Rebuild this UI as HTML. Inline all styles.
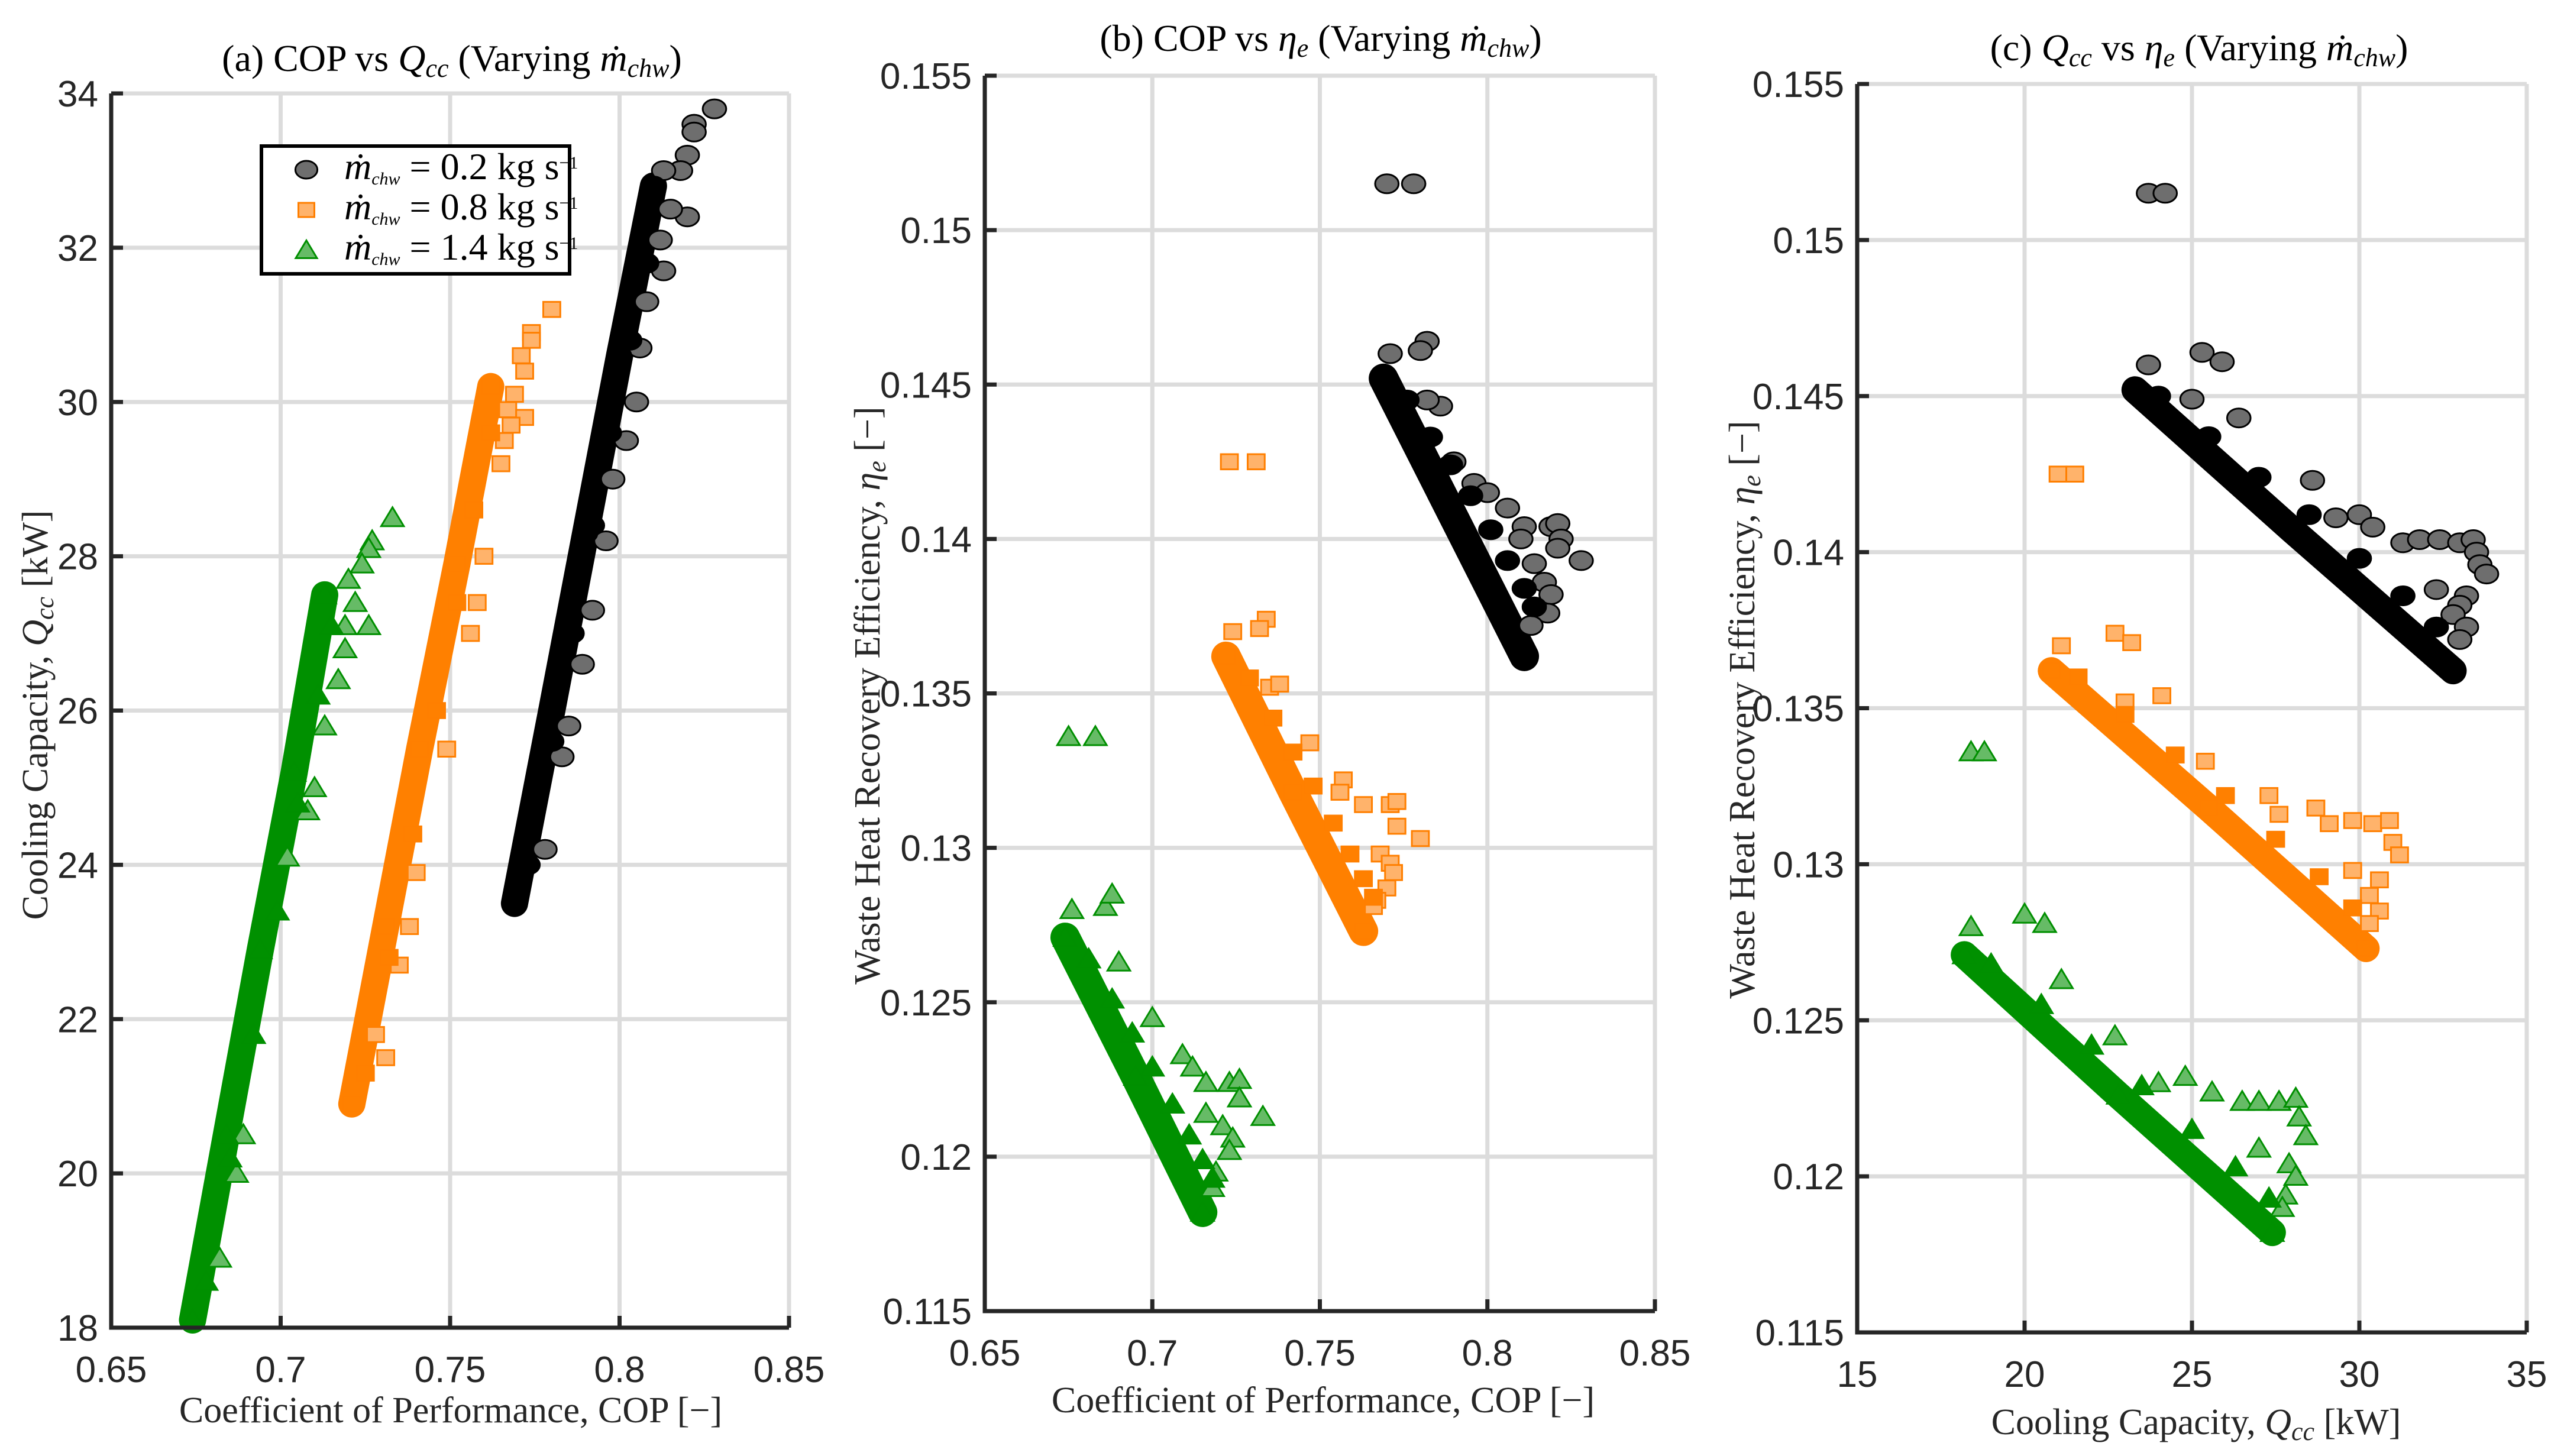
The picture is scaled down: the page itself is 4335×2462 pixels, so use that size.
<!DOCTYPE html>
<html><head><meta charset="utf-8">
<style>
html,body{margin:0;padding:0;background:#fff;}
svg{display:block;}
.tk{font-family:"Liberation Sans",Arial,sans-serif;font-size:62px;fill:#262626;}
.lb{font-family:"Liberation Serif","DejaVu Serif",serif;font-size:62px;fill:#262626;}
.tt{font-family:"Liberation Serif","DejaVu Serif",serif;font-size:64px;fill:#000;}
</style></head>
<body>
<svg id="fig" width="4335" height="2462" viewBox="0 0 4335 2462" xmlns="http://www.w3.org/2000/svg">
<rect width="4335" height="2462" fill="#fff"/>
</svg>
<script>
// ---------- DATA ----------
// Panel (a): COP vs Qcc
const aBlackBand = [[0.769,23.5],[0.780,26.0],[0.790,28.3],[0.800,30.6],[0.810,32.8]];
const aOrangeBand = [[0.721,20.9],[0.731,23.2],[0.741,25.5],[0.752,27.9],[0.762,30.2]];
const aGreenBand = [[0.674,18.1],[0.684,20.5],[0.694,22.9],[0.704,25.2],[0.713,27.5]];
const aBlackNear = [[0.773,24.0],[0.780,25.6],[0.786,27.0],[0.792,28.4],[0.797,29.6],[0.803,30.8],[0.808,31.8]];
const aOrangeNear = [[0.725,21.3],[0.732,22.8],[0.739,24.4],[0.746,26.0],[0.752,27.4],[0.757,28.6],[0.762,29.6]];
const aGreenNear = [[0.678,18.6],[0.685,20.2],[0.692,21.8],[0.699,23.4],[0.705,24.8],[0.711,26.2],[0.715,27.1]];
const aBlackOut = [[0.828,33.8],[0.822,33.6],[0.822,33.5],[0.820,33.2],[0.818,33.0],[0.813,33.0],[0.820,32.4],[0.815,32.5],[0.812,32.1],[0.813,31.7],[0.808,31.3],[0.806,30.7],[0.805,30.0],[0.802,29.5],[0.798,29.0],[0.796,28.2],[0.792,27.3],[0.789,26.6],[0.785,25.8],[0.783,25.4],[0.778,24.2]];
const aOrangeOut = [[0.780,31.2],[0.774,30.9],[0.774,30.8],[0.771,30.6],[0.772,30.4],[0.769,30.1],[0.767,29.9],[0.772,29.8],[0.768,29.7],[0.766,29.5],[0.765,29.2],[0.760,28.0],[0.758,27.4],[0.756,27.0],[0.749,25.5],[0.740,23.9],[0.738,23.2],[0.735,22.7],[0.731,21.5],[0.728,21.8]];
const aGreenOut = [[0.733,28.5],[0.727,28.2],[0.726,28.1],[0.724,27.9],[0.720,27.7],[0.722,27.4],[0.726,27.1],[0.719,27.1],[0.719,26.8],[0.717,26.4],[0.713,25.8],[0.710,25.0],[0.708,24.7],[0.702,24.1],[0.689,20.5],[0.687,20.0],[0.682,18.9]];
const aXTicks = [0.65,0.7,0.75,0.8,0.85];
const aXTickLabels = ["0.65","0.7","0.75","0.8","0.85"];
const aYTicks = [18,20,22,24,26,28,30,32,34];
const aYTickLabels = ["18","20","22","24","26","28","30","32","34"];

// Panel (b): COP vs eta
const bBlackBand = [[0.769,0.1452],[0.790,0.1407],[0.811,0.1362]];
const bOrangeBand = [[0.722,0.1362],[0.742,0.1318],[0.763,0.1273]];
const bGreenBand = [[0.674,0.1271],[0.695,0.1226],[0.715,0.1182]];
const bBlackNear = [[0.776,0.1445],[0.783,0.1433],[0.789,0.1424],[0.795,0.1414],[0.801,0.1403],[0.806,0.1393],[0.811,0.1384],[0.814,0.1378]];
const bOrangeNear = [[0.729,0.1355],[0.736,0.1342],[0.742,0.1331],[0.748,0.1320],[0.754,0.1308],[0.759,0.1298],[0.763,0.1290],[0.766,0.1284]];
const bGreenNear = [[0.681,0.1264],[0.688,0.1251],[0.694,0.1240],[0.700,0.1229],[0.706,0.1217],[0.711,0.1207],[0.715,0.1199],[0.718,0.1193]];
const bBlackOut = [[0.770,0.1515],[0.778,0.1515],[0.782,0.1464],[0.780,0.1461],[0.771,0.1460],[0.786,0.1443],[0.782,0.1445],[0.790,0.1425],[0.796,0.1418],[0.800,0.1415],[0.806,0.1410],[0.811,0.1404],[0.810,0.1400],[0.819,0.1404],[0.821,0.1405],[0.822,0.1400],[0.821,0.1397],[0.828,0.1393],[0.814,0.1392],[0.817,0.1386],[0.819,0.1382],[0.818,0.1376],[0.813,0.1372]];
const bOrangeOut = [[0.723,0.1425],[0.731,0.1425],[0.724,0.1370],[0.734,0.1374],[0.732,0.1371],[0.735,0.1352],[0.738,0.1353],[0.747,0.1334],[0.757,0.1322],[0.756,0.1318],[0.763,0.1314],[0.771,0.1314],[0.773,0.1315],[0.773,0.1307],[0.780,0.1303],[0.768,0.1298],[0.771,0.1295],[0.772,0.1292],[0.770,0.1287],[0.767,0.1283],[0.766,0.1281]];
const bGreenOut = [[0.675,0.1336],[0.683,0.1336],[0.676,0.1280],[0.686,0.1281],[0.688,0.1285],[0.690,0.1263],[0.700,0.1245],[0.709,0.1233],[0.712,0.1229],[0.716,0.1224],[0.723,0.1224],[0.726,0.1225],[0.726,0.1219],[0.733,0.1213],[0.716,0.1214],[0.721,0.1210],[0.724,0.1206],[0.723,0.1202],[0.719,0.1195],[0.718,0.1190]];
const bXTicks = [0.65,0.7,0.75,0.8,0.85];
const bXTickLabels = ["0.65","0.7","0.75","0.8","0.85"];
const bYTicks = [0.115,0.12,0.125,0.13,0.135,0.14,0.145,0.15,0.155];
const bYTickLabels = ["0.115","0.12","0.125","0.13","0.135","0.14","0.145","0.15","0.155"];

// Panel (c): Qcc vs eta
const cBlackBand = [[23.3,0.1452],[28.0,0.1407],[32.8,0.1362]];
const cOrangeBand = [[20.8,0.1362],[25.5,0.1318],[30.2,0.1273]];
const cGreenBand = [[18.2,0.1271],[22.8,0.1226],[27.4,0.1182]];
const cBlackNear = [[24.0,0.1450],[25.5,0.1437],[27.0,0.1424],[28.5,0.1412],[30.0,0.1398],[31.3,0.1386],[32.3,0.1376]];
const cOrangeNear = [[21.6,0.1360],[23.0,0.1348],[24.5,0.1335],[26.0,0.1322],[27.5,0.1308],[28.8,0.1296],[29.8,0.1286]];
const cGreenNear = [[19.0,0.1268],[20.5,0.1255],[22.0,0.1242],[23.5,0.1229],[25.0,0.1215],[26.3,0.1203],[27.3,0.1193]];
const cBlackOut = [[23.7,0.1515],[24.2,0.1515],[25.3,0.1464],[25.9,0.1461],[23.7,0.1460],[26.4,0.1443],[25.0,0.1449],[28.6,0.1423],[29.3,0.1411],[30.0,0.1412],[30.4,0.1408],[31.3,0.1403],[31.8,0.1404],[32.4,0.1404],[33.0,0.1403],[33.4,0.1404],[33.5,0.1400],[33.6,0.1396],[33.8,0.1393],[32.3,0.1388],[33.2,0.1386],[33.0,0.1383],[32.8,0.1380],[33.2,0.1376],[33.0,0.1372]];
const cOrangeOut = [[21.0,0.1425],[21.5,0.1425],[21.1,0.1370],[22.7,0.1374],[23.2,0.1371],[23.0,0.1352],[24.1,0.1354],[25.4,0.1333],[27.3,0.1322],[27.6,0.1316],[28.7,0.1318],[29.1,0.1313],[29.8,0.1314],[30.4,0.1313],[30.9,0.1314],[31.0,0.1307],[31.2,0.1303],[29.8,0.1298],[30.6,0.1295],[30.3,0.1290],[30.6,0.1285],[30.3,0.1281]];
const cGreenOut = [[18.4,0.1336],[18.8,0.1336],[18.4,0.1280],[20.0,0.1284],[20.6,0.1281],[21.1,0.1263],[22.7,0.1245],[24.0,0.1230],[24.8,0.1232],[25.6,0.1227],[26.5,0.1224],[27.0,0.1224],[27.6,0.1224],[28.1,0.1225],[28.2,0.1219],[28.4,0.1213],[27.0,0.1209],[27.9,0.1204],[28.1,0.1200],[27.8,0.1194],[27.7,0.1190]];
const cXTicks = [15,20,25,30,35];
const cXTickLabels = ["15","20","25","30","35"];
const cYTicks = bYTicks;
const cYTickLabels = bYTickLabels;

const legendLabels = ["0.2","0.8","1.4"];

// ---------- DRAW ----------
const NS="http://www.w3.org/2000/svg";
const svg=document.getElementById('fig');
function mk(tag,attrs,parent){const e=document.createElementNS(NS,tag);for(const k in attrs)e.setAttribute(k,attrs[k]);(parent||svg).appendChild(e);return e;}

const STY={
 black:{edge:"#000",fill:"#6e6e6e",band:"#000"},
 orange:{edge:"#ff7f00",fill:"#ffb36b",band:"#ff8000"},
 green:{edge:"#008f00",fill:"#66bb66",band:"#009000"}
};
function marker(g,kind,x,y,s,solid){
 let e;
 const f=solid?STY[kind].band:STY[kind].fill;
 if(kind==="black"){e=mk('ellipse',{cx:x,cy:y,rx:s*0.62,ry:s*0.5,fill:f,stroke:"#000","stroke-width":3},g);}
 else if(kind==="orange"){e=mk('rect',{x:x-s*0.45,y:y-s*0.4,width:s*0.9,height:s*0.8,fill:f,stroke:STY.orange.edge,"stroke-width":3},g);}
 else {e=mk('polygon',{points:`${x-s*0.6},${y+s*0.45} ${x+s*0.6},${y+s*0.45} ${x},${y-s*0.55}`,fill:f,stroke:STY.green.edge,"stroke-width":3},g);}
 
 
 return e;
}

function panel(p){
 const g=mk('g',{});
 
 
 const X=v=>p.x0+(v-p.xmin)/(p.xmax-p.xmin)*(p.x1-p.x0);
 const Y=v=>p.y1-(v-p.ymin)/(p.ymax-p.ymin)*(p.y1-p.y0);
 p.xt.forEach(t=>{const l=mk('line',{x1:X(t),x2:X(t),y1:p.y0,y2:p.y1,stroke:"#dcdcdc","stroke-width":7},g);
  });
 p.yt.forEach(t=>{const l=mk('line',{x1:p.x0,x2:p.x1,y1:Y(t),y2:Y(t),stroke:"#dcdcdc","stroke-width":7},g);
  });
 p.series.forEach(s=>{
  const sg=mk('g',{},g);
  
  
  const pts=s.band.map(d=>X(d[0])+','+Y(d[1])).join(' ');
  const bl=mk('polyline',{points:pts,fill:"none",stroke:STY[s.kind].band,"stroke-width":p.bw,"stroke-linecap":"round","stroke-linejoin":"round"},sg);
  
  
  s.out.forEach(d=>marker(sg,s.kind,X(d[0]),Y(d[1]),p.ms,false));
  s.near.forEach(d=>marker(sg,s.kind,X(d[0]),Y(d[1]),p.ms,true));
  s.band.forEach(d=>marker(sg,s.kind,X(d[0]),Y(d[1]),p.ms,true));
 });
 const ax=mk('path',{d:`M${p.x0},${p.y0} V${p.y1} H${p.x1}`,fill:"none",stroke:"#262626","stroke-width":7},g);
 
 p.xt.forEach((t,i)=>{
  const tk=mk('line',{x1:X(t),x2:X(t),y1:p.y1,y2:p.y1-20,stroke:"#262626","stroke-width":7},g);
  
  const tx=mk('text',{x:X(t),y:p.y1+92,"text-anchor":"middle",class:"tk"},g);tx.textContent=p.xl[i];
  
 });
 p.yt.forEach((t,i)=>{
  const tk=mk('line',{x1:p.x0,x2:p.x0+20,y1:Y(t),y2:Y(t),stroke:"#262626","stroke-width":7},g);
  
  const tx=mk('text',{x:p.x0-22,y:Y(t)+22,"text-anchor":"end",class:"tk"},g);tx.textContent=p.yl[i];
  
 });
 return g;
}

panel({name:'panel-a',x0:188,x1:1334,y0:158,y1:2245,xmin:0.65,xmax:0.85,ymin:18,ymax:34,bw:46,ms:32,
 xt:aXTicks,xl:aXTickLabels,yt:aYTicks,yl:aYTickLabels,
 series:[{kind:'black',band:aBlackBand,near:aBlackNear,out:aBlackOut},{kind:'orange',band:aOrangeBand,near:aOrangeNear,out:aOrangeOut},{kind:'green',band:aGreenBand,near:aGreenNear,out:aGreenOut}]});
panel({name:'panel-b',x0:1665,x1:2798,y0:128,y1:2217,xmin:0.65,xmax:0.85,ymin:0.115,ymax:0.155,bw:50,ms:32,
 xt:bXTicks,xl:bXTickLabels,yt:bYTicks,yl:bYTickLabels,
 series:[{kind:'black',band:bBlackBand,near:bBlackNear,out:bBlackOut},{kind:'orange',band:bOrangeBand,near:bOrangeNear,out:bOrangeOut},{kind:'green',band:bGreenBand,near:bGreenNear,out:bGreenOut}]});
panel({name:'panel-c',x0:3140,x1:4272,y0:142,y1:2253,xmin:15,xmax:35,ymin:0.115,ymax:0.155,bw:46,ms:32,
 xt:cXTicks,xl:cXTickLabels,yt:cYTicks,yl:cYTickLabels,
 series:[{kind:'black',band:cBlackBand,near:cBlackNear,out:cBlackOut},{kind:'orange',band:cOrangeBand,near:cOrangeNear,out:cOrangeOut},{kind:'green',band:cGreenBand,near:cGreenNear,out:cGreenOut}]});

const lg=mk('g',{});


mk('rect',{x:442,y:247,width:521,height:216,fill:"#fff",stroke:"#000","stroke-width":6},lg);
['black','orange','green'].forEach((k,i)=>{
 const y=287+i*68;
 marker(lg,k,518,y,30,false);
 const t=mk('text',{x:582,y:y+16,class:"tt","font-size":"44"},lg);
 t.innerHTML=`<tspan font-style="italic">ṁ</tspan><tspan font-style="italic" font-size="30" dy="9">chw</tspan><tspan dy="-9"> = ${legendLabels[i]} kg s</tspan><tspan font-size="30" dy="-18">−1</tspan>`;
 
 
});
</script>

<svg style="position:absolute;left:0;top:0" width="4335" height="2462">
<text class="tt" x="764" y="120" text-anchor="middle">(a) COP vs <tspan font-style="italic">Q</tspan><tspan font-style="italic" font-size="44" dy="10">cc</tspan><tspan dy="-10"> (Varying </tspan><tspan font-style="italic">ṁ</tspan><tspan font-style="italic" font-size="44" dy="10">chw</tspan><tspan dy="-10">)</tspan></text>
<text class="tt" x="2233" y="86" text-anchor="middle">(b) COP vs <tspan font-style="italic">η</tspan><tspan font-style="italic" font-size="44" dy="10">e</tspan><tspan dy="-10"> (Varying </tspan><tspan font-style="italic">ṁ</tspan><tspan font-style="italic" font-size="44" dy="10">chw</tspan><tspan dy="-10">)</tspan></text>
<text class="tt" x="3718" y="102" text-anchor="middle">(c) <tspan font-style="italic">Q</tspan><tspan font-style="italic" font-size="44" dy="10">cc</tspan><tspan dy="-10"> vs </tspan><tspan font-style="italic">η</tspan><tspan font-style="italic" font-size="44" dy="10">e</tspan><tspan dy="-10"> (Varying </tspan><tspan font-style="italic">ṁ</tspan><tspan font-style="italic" font-size="44" dy="10">chw</tspan><tspan dy="-10">)</tspan></text>

<text class="lb" x="762" y="2405" text-anchor="middle">Coefficient of Performance, COP [−]</text>
<text class="lb" x="2237" y="2388" text-anchor="middle">Coefficient of Performance, COP [−]</text>
<text class="lb" x="3713" y="2425" text-anchor="middle">Cooling Capacity, <tspan font-style="italic">Q</tspan><tspan font-style="italic" font-size="44" dy="10">cc</tspan><tspan dy="-10"> [kW]</tspan></text>

<text class="lb" transform="translate(80,1209) rotate(-90)" text-anchor="middle">Cooling Capacity, <tspan font-style="italic">Q</tspan><tspan font-style="italic" font-size="44" dy="10">cc</tspan><tspan dy="-10"> [kW]</tspan></text>
<text class="lb" transform="translate(1487,1176) rotate(-90)" text-anchor="middle">Waste Heat Recovery Efficiency, <tspan font-style="italic">η</tspan><tspan font-style="italic" font-size="44" dy="10">e</tspan><tspan dy="-10"> [−]</tspan></text>
<text class="lb" transform="translate(2966,1200) rotate(-90)" text-anchor="middle">Waste Heat Recovery Efficiency, <tspan font-style="italic">η</tspan><tspan font-style="italic" font-size="44" dy="10">e</tspan><tspan dy="-10"> [−]</tspan></text>
</svg>
</body></html>
